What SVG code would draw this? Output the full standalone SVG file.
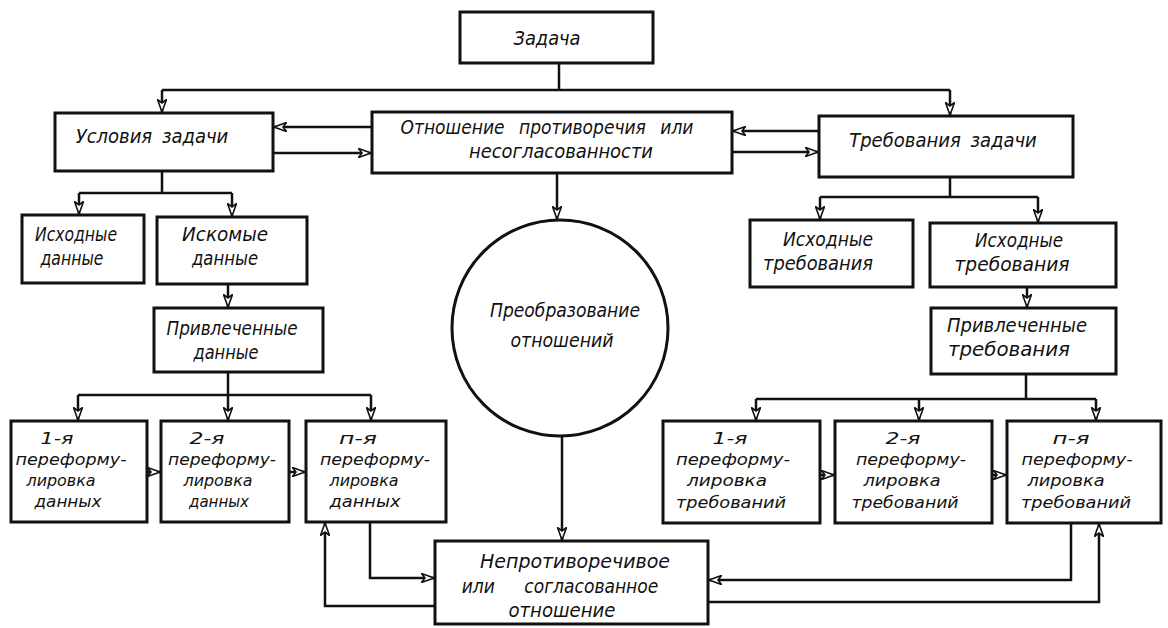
<svg xmlns="http://www.w3.org/2000/svg" width="1168" height="628" viewBox="0 0 1168 628">
<style>
.box{fill:#fff;stroke:#111;stroke-width:3}
.ln{fill:none;stroke:#111;stroke-width:2.5}
text{font-family:'DejaVu Sans Condensed','Liberation Sans Narrow','DejaVu Sans',sans-serif;font-style:italic;font-stretch:condensed;font-size:20px;fill:#111;text-anchor:middle}
.sm text{font-size:16.5px}
.md text{font-size:19px}
</style>
<defs>
<marker id="ar" viewBox="0 0 14 10" refX="13" refY="5" markerWidth="14" markerHeight="10" markerUnits="userSpaceOnUse" orient="auto">
<path d="M0.5,0.5 L13,5 L0.5,9.5 L4,5 z" fill="#fff" stroke="#111" stroke-width="1.6"/>
</marker>
</defs>
<rect width="1168" height="628" fill="#fff"/>
<g id="connectors">
<path class="ln" d="M559,63 V90 M162,90 H950"/>
<path class="ln" marker-end="url(#ar)" d="M162,90 V112"/>
<path class="ln" marker-end="url(#ar)" d="M950,90 V115"/>
<path class="ln" marker-end="url(#ar)" d="M372,127 H274"/>
<path class="ln" marker-end="url(#ar)" d="M273,153 H371"/>
<path class="ln" marker-end="url(#ar)" d="M819,131 H733"/>
<path class="ln" marker-end="url(#ar)" d="M732,152 H818"/>
<path class="ln" marker-end="url(#ar)" d="M557,173 V219"/>
<path class="ln" d="M162,171 V193 M79,193 H232"/>
<path class="ln" marker-end="url(#ar)" d="M79,193 V214"/>
<path class="ln" marker-end="url(#ar)" d="M232,193 V216"/>
<path class="ln" marker-end="url(#ar)" d="M228,284 V307"/>
<path class="ln" d="M228,372 V395 M78,395 H371"/>
<path class="ln" marker-end="url(#ar)" d="M78,395 V420"/>
<path class="ln" marker-end="url(#ar)" d="M228,395 V420"/>
<path class="ln" marker-end="url(#ar)" d="M371,395 V420"/>
<path class="ln" marker-end="url(#ar)" d="M147,472 H160"/>
<path class="ln" marker-end="url(#ar)" d="M289,472 H305"/>
<path class="ln" marker-end="url(#ar)" d="M370,522 V578 H434"/>
<path class="ln" marker-end="url(#ar)" d="M435,606 H325 V523"/>
<path class="ln" marker-end="url(#ar)" d="M562,436 V540"/>
<path class="ln" d="M950,177 V197 M820,197 H1038"/>
<path class="ln" marker-end="url(#ar)" d="M820,197 V219"/>
<path class="ln" marker-end="url(#ar)" d="M1038,197 V222"/>
<path class="ln" marker-end="url(#ar)" d="M1027,287 V307"/>
<path class="ln" d="M1026,374 V399 M756,399 H1096"/>
<path class="ln" marker-end="url(#ar)" d="M756,399 V420"/>
<path class="ln" marker-end="url(#ar)" d="M919,399 V420"/>
<path class="ln" marker-end="url(#ar)" d="M1096,399 V420"/>
<path class="ln" marker-end="url(#ar)" d="M820,475 H834"/>
<path class="ln" marker-end="url(#ar)" d="M992,475 H1006"/>
<path class="ln" marker-end="url(#ar)" d="M1071,523 V580 H709"/>
<path class="ln" marker-end="url(#ar)" d="M708,602 H1099 V524"/>
</g>
<g id="zadacha"><rect class="box" x="460" y="12" width="193" height="51"/><text x="547" y="45" textLength="67" lengthAdjust="spacingAndGlyphs">Задача</text></g>
<g id="usloviya"><rect class="box" x="55" y="113" width="218" height="58"/><text x="152" y="143" word-spacing="4">Условия задачи</text></g>
<g id="otnoshenie" class="md"><rect class="box" x="372" y="112" width="360" height="61"/><text x="547" y="134" word-spacing="9">Отношение противоречия или</text><text x="561" y="158" textLength="184" lengthAdjust="spacingAndGlyphs">несогласованности</text></g>
<g id="trebovaniya"><rect class="box" x="819" y="116" width="254" height="61"/><text x="943" y="147" word-spacing="4">Требования задачи</text></g>
<g id="ishodnye-dannye" class="md"><rect class="box" x="22" y="215" width="122" height="68"/><text x="76" y="241" textLength="82" lengthAdjust="spacingAndGlyphs">Исходные</text><text x="72" y="265" textLength="63" lengthAdjust="spacingAndGlyphs">данные</text></g>
<g id="iskomye-dannye" class="md"><rect class="box" x="157" y="217" width="150" height="67"/><text x="225" y="241" textLength="86" lengthAdjust="spacingAndGlyphs">Искомые</text><text x="225" y="265" textLength="66" lengthAdjust="spacingAndGlyphs">данные</text></g>
<g id="privlechennye-dannye" class="md"><rect class="box" x="154" y="308" width="169" height="64"/><text x="232" y="335" textLength="131" lengthAdjust="spacingAndGlyphs">Привлеченные</text><text x="226" y="359" textLength="65" lengthAdjust="spacingAndGlyphs">данные</text></g>
<g id="ishodnye-treb-1" class="md"><rect class="box" x="750" y="220" width="163" height="67"/><text x="828" y="246" textLength="90" lengthAdjust="spacingAndGlyphs">Исходные</text><text x="818" y="270" textLength="110" lengthAdjust="spacingAndGlyphs">требования</text></g>
<g id="ishodnye-treb-2" class="md"><rect class="box" x="930" y="223" width="186" height="64"/><text x="1019" y="247" textLength="88" lengthAdjust="spacingAndGlyphs">Исходные</text><text x="1012" y="271" textLength="115" lengthAdjust="spacingAndGlyphs">требования</text></g>
<g id="privlechennye-treb" class="md"><rect class="box" x="931" y="308" width="185" height="66"/><text x="1017" y="332" textLength="140" lengthAdjust="spacingAndGlyphs">Привлеченные</text><text x="1009" y="356" textLength="122" lengthAdjust="spacingAndGlyphs">требования</text></g>
<g id="preobrazovanie"><circle cx="560" cy="328" r="108" fill="#fff" stroke="#111" stroke-width="3"/><text x="565" y="317" textLength="150" lengthAdjust="spacingAndGlyphs">Преобразование</text><text x="562" y="347" textLength="103" lengthAdjust="spacingAndGlyphs">отношений</text></g>
<g id="d1" class="sm"><rect class="box" x="11" y="421" width="136" height="101"/><text x="57" y="444" textLength="33" lengthAdjust="spacingAndGlyphs">1-я</text><text x="71" y="465" textLength="111" lengthAdjust="spacingAndGlyphs">переформу-</text><text x="61" y="486" textLength="69" lengthAdjust="spacingAndGlyphs">лировка</text><text x="68" y="507" textLength="67" lengthAdjust="spacingAndGlyphs">данных</text></g>
<g id="d2" class="sm"><rect class="box" x="161" y="421" width="128" height="101"/><text x="207" y="444" textLength="35" lengthAdjust="spacingAndGlyphs">2-я</text><text x="222" y="465" textLength="108" lengthAdjust="spacingAndGlyphs">переформу-</text><text x="218" y="486" textLength="69" lengthAdjust="spacingAndGlyphs">лировка</text><text x="219" y="507" textLength="60" lengthAdjust="spacingAndGlyphs">данных</text></g>
<g id="dn" class="sm"><rect class="box" x="306" y="421" width="140" height="101"/><text x="358" y="444" textLength="38" lengthAdjust="spacingAndGlyphs">п-я</text><text x="375" y="465" textLength="110" lengthAdjust="spacingAndGlyphs">переформу-</text><text x="364" y="486" textLength="69" lengthAdjust="spacingAndGlyphs">лировка</text><text x="365" y="507" textLength="71" lengthAdjust="spacingAndGlyphs">данных</text></g>
<g id="t1" class="sm"><rect class="box" x="663" y="421" width="157" height="102"/><text x="730" y="444" textLength="35" lengthAdjust="spacingAndGlyphs">1-я</text><text x="733" y="465" textLength="114" lengthAdjust="spacingAndGlyphs">переформу-</text><text x="727" y="486" textLength="80" lengthAdjust="spacingAndGlyphs">лировка</text><text x="731" y="508" textLength="110" lengthAdjust="spacingAndGlyphs">требований</text></g>
<g id="t2" class="sm"><rect class="box" x="835" y="421" width="157" height="102"/><text x="903" y="444" textLength="35" lengthAdjust="spacingAndGlyphs">2-я</text><text x="911" y="465" textLength="110" lengthAdjust="spacingAndGlyphs">переформу-</text><text x="902" y="486" textLength="77" lengthAdjust="spacingAndGlyphs">лировка</text><text x="905" y="508" textLength="107" lengthAdjust="spacingAndGlyphs">требований</text></g>
<g id="tn" class="sm"><rect class="box" x="1007" y="421" width="154" height="102"/><text x="1071" y="444" textLength="37" lengthAdjust="spacingAndGlyphs">п-я</text><text x="1077" y="465" textLength="111" lengthAdjust="spacingAndGlyphs">переформу-</text><text x="1066" y="486" textLength="77" lengthAdjust="spacingAndGlyphs">лировка</text><text x="1076" y="508" textLength="110" lengthAdjust="spacingAndGlyphs">требований</text></g>
<g id="neprotivorechivoe" class="md"><rect class="box" x="435" y="541" width="273" height="83"/><text x="575" y="568" textLength="190" lengthAdjust="spacingAndGlyphs">Непротиворечивое</text><text x="560" y="593" word-spacing="24">или согласованное</text><text x="562" y="617" textLength="107" lengthAdjust="spacingAndGlyphs">отношение</text></g>
</svg>
